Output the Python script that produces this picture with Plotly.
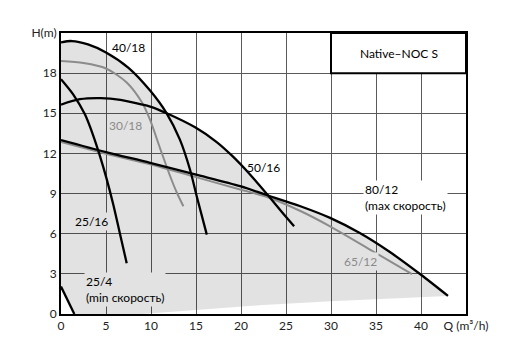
import numpy as np
import plotly.graph_objects as go

FONT = "Lato"

# ---- data (Q in m3/h, H in m) ----
q_40_18 = [0, 1.2, 3, 5, 7.5, 9.9, 11.74, 13.2, 14.33, 15.1, 16.2]
h_40_18 = [20.3, 20.4, 20.15, 19.55, 18.4, 16.7, 15.0, 13.05, 10.8, 8.75, 5.93]

q_30_18 = [0, 2.5, 5, 7.3, 9.0, 9.9, 11.0, 12.1, 12.85, 13.6]
h_30_18 = [18.9, 18.75, 18.35, 17.3, 15.8, 14.5, 12.4, 10.35, 9.1, 8.05]

q_50_16 = [0, 2.1, 4.4, 6.6, 8.8, 9.9, 11.74, 14.9, 17.3, 19.0, 21.0, 23.0, 24.7, 25.9]
h_50_16 = [15.65, 16.05, 16.13, 16.0, 15.68, 15.5, 15.0, 13.95, 12.85, 11.83, 10.43, 8.87, 7.5, 6.55]

q_25_16 = [0, 1.37, 2.67, 3.6, 4.33, 5.07, 5.8, 6.55, 7.3]
h_25_16 = [17.55, 16.4, 14.9, 13.3, 11.8, 10.1, 8.2, 6.0, 3.8]

q_80_12 = [0, 5, 9.9, 14.9, 19.9, 22.67, 26.6, 29.9, 33.2, 36.5, 40, 43.0]
h_80_12 = [13.0, 12.1, 11.3, 10.43, 9.55, 8.93, 8.05, 7.18, 6.05, 4.65, 2.93, 1.35]

q_65_12 = [0, 5, 9.9, 14.9, 19.9, 22.67, 26.6, 29.9, 34.7, 39.0]
h_65_12 = [12.85, 11.98, 11.18, 10.25, 9.3, 8.8, 7.7, 6.55, 4.67, 2.98]

q_25_4 = [0, 1.48]
h_25_4 = [2.05, 0]

# lower edge of shaded operating field
q_floor = [43.0, 30, 22, 15, 9, 1.48]
h_floor = [1.35, 0.95, 0.65, 0.3, 0, 0]

x_ticks = [0, 5, 10, 15, 20, 25, 30, 35, 40, 45]
x_ticktext = ["0", "5", "10", "15", "20", "25", "30", "35", "40", "Q (m³/h)"]
y_ticks = [0, 3, 6, 9, 12, 15, 18, 21]
y_ticktext = ["0", "3", "6", "9", "12", "15", "18", "H(m)"]

BLACK = "#000000"
GRAY = "#8c8c8c"
FILL = "#e2e2e2"
NOBG = "rgba(0,0,0,0)"

# ---- envelope for shaded region ----
qq = np.linspace(0, q_80_12[-1], 400)
def seg(qa, ha):
    v = np.interp(qq, qa, ha)
    v[(qq < qa[0]) | (qq > qa[-1])] = -1
    return v
env = np.maximum.reduce([seg(q_40_18, h_40_18), seg(q_50_16, h_50_16), seg(q_80_12, h_80_12)])
fx = list(qq) + q_floor + q_25_4[::-1]
fy = list(env) + h_floor + h_25_4[::-1]

fig = go.Figure()
fig.add_trace(go.Scatter(x=fx, y=fy, fill="toself", fillcolor="rgba(0,0,0,0.115)",
                         line=dict(width=0), mode="lines", hoverinfo="skip"))

def curve(q, h, color, w):
    fig.add_trace(go.Scatter(x=q, y=h, mode="lines",
                             line=dict(color=color, width=w, shape="spline", smoothing=0.8)))

curve(q_30_18, h_30_18, GRAY, 2)
curve(q_65_12, h_65_12, GRAY, 2)
curve(q_40_18, h_40_18, BLACK, 2.3)
curve(q_50_16, h_50_16, BLACK, 2.3)
curve(q_25_16, h_25_16, BLACK, 2.3)
curve(q_80_12, h_80_12, BLACK, 2.3)
curve(q_25_4, h_25_4, BLACK, 2.3)

fig.add_shape(type="rect", x0=30, x1=45, y0=18, y1=21, fillcolor="white",
              line=dict(color="black", width=2), layer="above")

def label(x, y, text, color="#000", bg="white", xanchor="center", align="center"):
    fig.add_annotation(x=x, y=y, text=text, showarrow=False, xanchor=xanchor, align=align,
                       font=dict(family=FONT, size=12, color=color), bgcolor=bg, borderpad=1)

label(37.5, 19.5, "Native–NOC S", bg=NOBG)
label(7.5, 19.9, "40/18", bg=NOBG)
label(7.2, 14.1, "30/18", color="#8a8a8a", bg=FILL)
label(22.5, 10.95, "50/16", bg=NOBG)
label(33.6, 8.7, "80/12<br>(max скорость)", xanchor="left", align="left")
label(33.3, 3.95, "65/12", color="#8a8a8a", bg=FILL)
label(3.4, 6.9, "25/16", bg=FILL)
label(2.5, 1.85, "25/4<br>(min скорость)", xanchor="left", align="left", bg=FILL)

fig.update_xaxes(range=[0, 45], tickvals=x_ticks, ticktext=x_ticktext, showgrid=True,
                 gridcolor="#5a5a5a", gridwidth=1.2, showline=True, linecolor="black", linewidth=2,
                 mirror=True, zeroline=False, ticks="", tickfont=dict(family=FONT, size=12, color="#222"))
fig.update_yaxes(range=[0, 21], tickvals=y_ticks, ticktext=y_ticktext, showgrid=True,
                 gridcolor="#5a5a5a", gridwidth=1.2, showline=True, linecolor="black", linewidth=2,
                 mirror=True, zeroline=False, ticks="", tickfont=dict(family=FONT, size=12, color="#222"))
fig.update_layout(width=520, height=364, margin=dict(l=53, r=62, t=25, b=58),
                  plot_bgcolor="white", paper_bgcolor="white", showlegend=False)
fig.write_html("out.html")
